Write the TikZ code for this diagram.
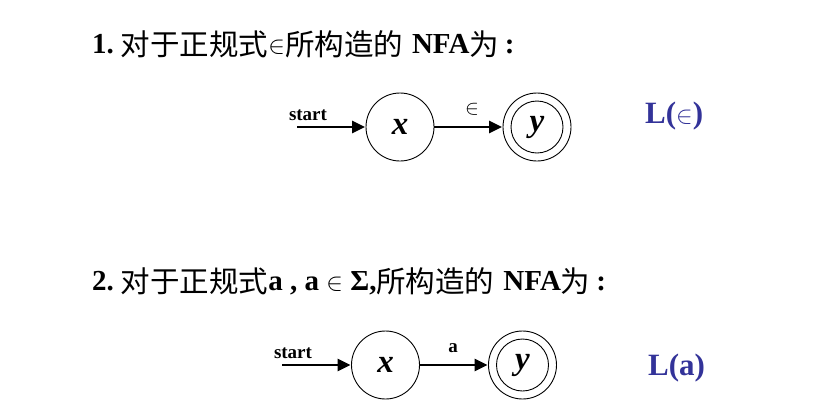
\documentclass[tikz,border=0pt]{standalone}
\usepackage{fontspec}
\setmainfont{Liberation Serif}
\newfontfamily\cjkfont{Noto Sans CJK SC}
\newcommand{\zh}[1]{\raisebox{-2.5pt}{\cjkfont\mdseries\fontsize{29.5}{30}\selectfont #1}}
\usetikzlibrary{arrows.meta}
\definecolor{langblue}{RGB}{51,51,153}
\begin{document}
\begin{tikzpicture}[x=1pt,y=-1pt,
  state/.style={circle,draw,line width=0.9pt,minimum size=68pt,inner sep=0pt,
    font=\fontsize{33}{33}\selectfont\bfseries\itshape},
  trans/.style={line width=2.9pt,-{Triangle[length=13pt,width=12pt]},shorten >=0.5pt},
  title/.style={anchor=base west,inner sep=0pt,font=\fontsize{29}{29}\selectfont\bfseries},
  lbl/.style={inner sep=0pt,font=\fontsize{19}{19}\selectfont\bfseries},
  lang/.style={anchor=base west,inner sep=0pt,text=langblue,font=\fontsize{31}{31}\selectfont\bfseries}]
\useasboundingbox (0,0) rectangle (823,416);
\fill[white] (0,0) rectangle (823,416);
% part 1
\node[title] (t1) at (92,53) {1.\hspace{7pt}\zh{对于正规式}{\mdseries$\in$}\zh{所构造的}\hspace{9pt}NFA\zh{为}\hspace{6pt}:};
\coordinate (s1) at (297,127);
\node[state] (x1) at (400,127) {x};
\node[state] (y1) at (537,127) {y};
\draw[line width=0.9pt] (y1.center) circle (26);
\draw[trans] (s1) -- (x1);
\draw[trans] (x1) -- (y1);
\node[lbl,anchor=base] (st1) at (308,120) {start};
\node[inner sep=0pt,font=\fontsize{21}{21}\selectfont] (e1) at (472,109) {$\in$};
\node[lang] (L1) at (645,123) {L($\in$)};
% part 2
\node[title] (t2) at (92,290) {2.\hspace{7pt}\zh{对于正规式}a , a {\mdseries$\in$} Σ,\zh{所构造的}\hspace{9pt}NFA\zh{为}\hspace{6pt}:};
\coordinate (s2) at (282,365);
\node[state] (x2) at (385.5,365) {x};
\node[state] (y2) at (522.5,365) {y};
\draw[line width=0.9pt] (y2.center) circle (26);
\draw[trans] (s2) -- (x2);
\draw[trans] (x2) -- (y2);
\node[lbl,anchor=base] (st2) at (293,358) {start};
\node[lbl,anchor=base] (a2) at (453,352) {a};
\node[lang] (L2) at (648,375) {L(a)};
\end{tikzpicture}
\end{document}
